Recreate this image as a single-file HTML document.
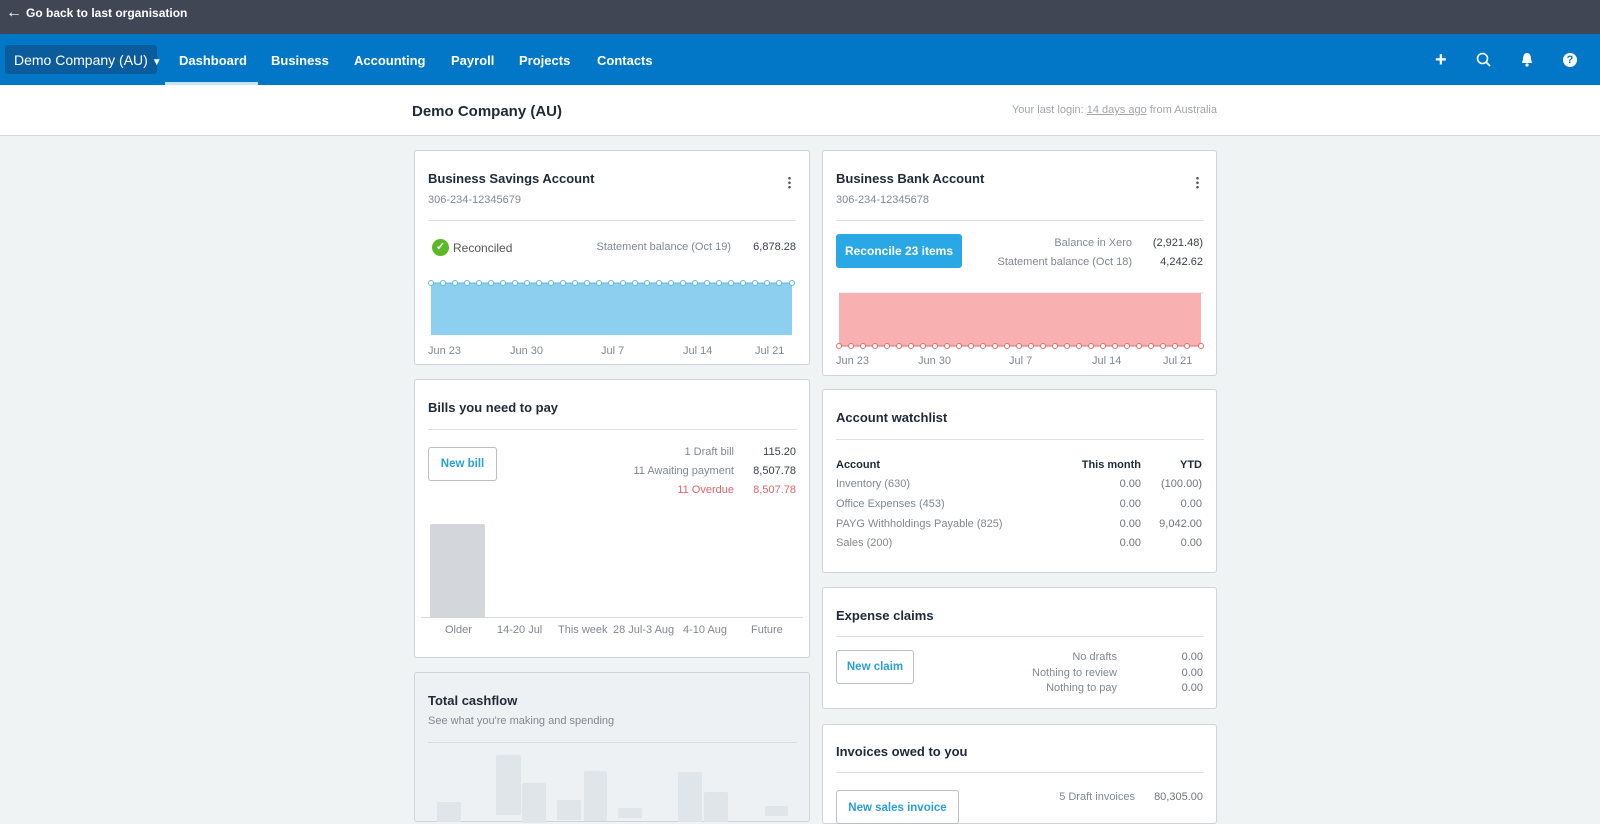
<!DOCTYPE html>
<html><head><meta charset="utf-8"><style>
*{margin:0;padding:0;box-sizing:border-box}
body{width:1600px;height:811px;overflow:hidden;background:#eff3f4;font-family:"Liberation Sans",Arial,sans-serif;position:relative}
.a{position:absolute;white-space:nowrap;line-height:1}
.card{position:absolute;background:#fff;border:1px solid #cfd4d8;border-radius:3px}
.t{font-weight:bold;font-size:13px;color:#1e2a38}
.g{font-size:11px;color:#808890}
.s{font-size:11px;color:#6e767d}
.v{font-size:11px;color:#3a4148}
.hr{position:absolute;height:1px;background:#dde1e4}
.nav{font-weight:bold;font-size:13px;color:#fff}
.btn{position:absolute;border:1px solid #b9c0c6;border-radius:3px;background:#fff;color:#2aa0d8;font-weight:bold;font-size:11.5px;display:flex;align-items:center;justify-content:center}
.bar{position:absolute;background:#e0e5e9;border-radius:2px 2px 0 0}
</style></head><body>
<div class="a" style="left:0;top:0;width:1600px;height:34px;background:#404654"></div>
<div class="a" style="left:6px;top:5px;font-size:16px;color:#fff;font-weight:bold">&#8592;</div>
<div class="a" style="left:26px;top:7px;font-size:12px;color:#fff;font-weight:bold">Go back to last organisation</div>
<div class="a" style="left:0;top:34px;width:1600px;height:51px;background:#0277c7"></div>
<div class="a" style="left:5px;top:45px;width:152px;height:29px;background:#0b5c9c;border-radius:3px"></div>
<div class="a" style="left:14px;top:53px;font-size:14px;color:#fff">Demo Company (AU) <span style="font-size:10px">&#9660;</span></div>
<div class="a nav" style="left:179px;top:54px">Dashboard</div>
<div class="a nav" style="left:271px;top:54px">Business</div>
<div class="a nav" style="left:354px;top:54px">Accounting</div>
<div class="a nav" style="left:451px;top:54px">Payroll</div>
<div class="a nav" style="left:519px;top:54px">Projects</div>
<div class="a nav" style="left:597px;top:54px">Contacts</div>
<div class="a" style="left:165px;top:82px;width:93px;height:3px;background:#c5e6f9"></div>
<div class="a" style="left:1435px;top:50px;font-size:20px;color:#fff;font-weight:bold">+</div>
<svg class="a" style="left:1476px;top:52px" width="16" height="16"><circle cx="6.5" cy="6.5" r="5" fill="none" stroke="#fff" stroke-width="1.6"/><line x1="10" y1="10" x2="14" y2="14" stroke="#fff" stroke-width="1.8"/></svg>
<svg class="a" style="left:1520px;top:52px" width="14" height="15"><path d="M7 1C4 1 3 4 3 7L2 11H12L11 7C11 4 10 1 7 1Z" fill="#fff"/><circle cx="7" cy="13" r="1.6" fill="#fff"/></svg>
<div class="a" style="left:1563px;top:53px;width:14px;height:14px;border-radius:50%;background:#fff;color:#0277c7;font-size:11px;font-weight:bold;text-align:center;line-height:14px">?</div>
<div class="a" style="left:0;top:85px;width:1600px;height:51px;background:#fff;border-bottom:1px solid #d3d7da"></div>
<div class="a" style="left:412px;top:104px;font-size:15px;color:#1e2a38;font-weight:bold">Demo Company (AU)</div>
<div class="a" style="right:383px;top:105px;font-size:11px;color:#a0a6ab">Your last login: <u>14 days ago</u> from Australia</div>

<!-- Savings -->
<div class="card" style="left:414px;top:150px;width:396px;height:215px"></div>
<div class="a t" style="left:428px;top:172px">Business Savings Account</div>
<div class="a g" style="left:428px;top:195px">306-234-12345679</div>
<div class="a" style="left:788px;top:176px;width:3px;height:13px;background:radial-gradient(circle,#555 1.2px,transparent 1.4px) 0 0/3px 4.5px"></div>
<div class="hr" style="left:428px;top:220px;width:368px"></div>
<div class="a" style="left:432px;top:239px;width:17px;height:17px;border-radius:50%;background:#5cb824;color:#fff;font-size:11px;text-align:center;line-height:17px;font-weight:bold">&#10003;</div>
<div class="a s" style="left:453px;top:242px;font-size:12px;color:#555">Reconciled</div>
<div class="a g" style="right:869px;top:242px">Statement balance (Oct 19)</div>
<div class="a v" style="right:804px;top:242px">6,878.28</div>
<svg class="a" style="left:428px;top:278px" width="368" height="62">
<rect x="3" y="5" width="361" height="52" fill="#8ccfef"/>
<line x1="3" y1="5" x2="364" y2="5" stroke="#5fb8e6" stroke-width="1"/>
<g fill="#fff" stroke="#5fb8e6" stroke-width="1">
<circle cx="3" cy="5" r="2.5"/><circle cx="15" cy="5" r="2.5"/><circle cx="27" cy="5" r="2.5"/><circle cx="39" cy="5" r="2.5"/><circle cx="51" cy="5" r="2.5"/><circle cx="63" cy="5" r="2.5"/><circle cx="75" cy="5" r="2.5"/><circle cx="87" cy="5" r="2.5"/><circle cx="99" cy="5" r="2.5"/><circle cx="111" cy="5" r="2.5"/><circle cx="123" cy="5" r="2.5"/><circle cx="135" cy="5" r="2.5"/><circle cx="147" cy="5" r="2.5"/><circle cx="159" cy="5" r="2.5"/><circle cx="171" cy="5" r="2.5"/><circle cx="183" cy="5" r="2.5"/><circle cx="195" cy="5" r="2.5"/><circle cx="207" cy="5" r="2.5"/><circle cx="219" cy="5" r="2.5"/><circle cx="231" cy="5" r="2.5"/><circle cx="243" cy="5" r="2.5"/><circle cx="255" cy="5" r="2.5"/><circle cx="267" cy="5" r="2.5"/><circle cx="279" cy="5" r="2.5"/><circle cx="291" cy="5" r="2.5"/><circle cx="303" cy="5" r="2.5"/><circle cx="315" cy="5" r="2.5"/><circle cx="327" cy="5" r="2.5"/><circle cx="339" cy="5" r="2.5"/><circle cx="351" cy="5" r="2.5"/><circle cx="364" cy="5" r="2.5"/></g></svg>
<div class="a g" style="left:428px;top:346px">Jun 23</div>
<div class="a g" style="left:510px;top:346px">Jun 30</div>
<div class="a g" style="left:601px;top:346px">Jul 7</div>
<div class="a g" style="left:683px;top:346px">Jul 14</div>
<div class="a g" style="left:755px;top:346px">Jul 21</div>

<!-- Bank -->
<div class="card" style="left:822px;top:150px;width:395px;height:226px"></div>
<div class="a t" style="left:836px;top:172px">Business Bank Account</div>
<div class="a g" style="left:836px;top:195px">306-234-12345678</div>
<div class="a" style="left:1196px;top:176px;width:3px;height:13px;background:radial-gradient(circle,#555 1.2px,transparent 1.4px) 0 0/3px 4.5px"></div>
<div class="hr" style="left:836px;top:220px;width:368px"></div>
<div class="a" style="left:836px;top:234px;width:126px;height:34px;background:#2aa8e5;border-radius:3px;color:#fff;font-weight:bold;font-size:12px;text-align:center;line-height:34px">Reconcile 23 items</div>
<div class="a g" style="right:468px;top:238px">Balance in Xero</div>
<div class="a v" style="right:397px;top:238px">(2,921.48)</div>
<div class="a g" style="right:468px;top:257px">Statement balance (Oct 18)</div>
<div class="a v" style="right:397px;top:257px">4,242.62</div>
<svg class="a" style="left:836px;top:290px" width="370" height="60">
<line x1="3" y1="3" x2="368" y2="3" stroke="#dcdfe2"/>
<rect x="3" y="3" width="362" height="53" fill="#f8b0b0"/>
<line x1="3" y1="56" x2="365" y2="56" stroke="#e46b6b"/>
<g fill="#fff" stroke="#e46b6b" stroke-width="1">
<circle cx="3" cy="56" r="2.5"/><circle cx="15" cy="56" r="2.5"/><circle cx="27" cy="56" r="2.5"/><circle cx="39" cy="56" r="2.5"/><circle cx="51" cy="56" r="2.5"/><circle cx="63" cy="56" r="2.5"/><circle cx="75" cy="56" r="2.5"/><circle cx="87" cy="56" r="2.5"/><circle cx="99" cy="56" r="2.5"/><circle cx="111" cy="56" r="2.5"/><circle cx="123" cy="56" r="2.5"/><circle cx="135" cy="56" r="2.5"/><circle cx="147" cy="56" r="2.5"/><circle cx="159" cy="56" r="2.5"/><circle cx="171" cy="56" r="2.5"/><circle cx="183" cy="56" r="2.5"/><circle cx="195" cy="56" r="2.5"/><circle cx="207" cy="56" r="2.5"/><circle cx="219" cy="56" r="2.5"/><circle cx="231" cy="56" r="2.5"/><circle cx="243" cy="56" r="2.5"/><circle cx="255" cy="56" r="2.5"/><circle cx="267" cy="56" r="2.5"/><circle cx="279" cy="56" r="2.5"/><circle cx="291" cy="56" r="2.5"/><circle cx="303" cy="56" r="2.5"/><circle cx="315" cy="56" r="2.5"/><circle cx="327" cy="56" r="2.5"/><circle cx="339" cy="56" r="2.5"/><circle cx="351" cy="56" r="2.5"/><circle cx="365" cy="56" r="2.5"/></g></svg>
<div class="a g" style="left:836px;top:356px">Jun 23</div>
<div class="a g" style="left:918px;top:356px">Jun 30</div>
<div class="a g" style="left:1009px;top:356px">Jul 7</div>
<div class="a g" style="left:1092px;top:356px">Jul 14</div>
<div class="a g" style="left:1163px;top:356px">Jul 21</div>

<!-- Bills -->
<div class="card" style="left:414px;top:379px;width:396px;height:279px"></div>
<div class="a t" style="left:428px;top:401px">Bills you need to pay</div>
<div class="hr" style="left:428px;top:429px;width:369px"></div>
<div class="btn" style="left:428px;top:447px;width:69px;height:34px">New bill</div>
<div class="a g" style="right:866px;top:447px">1 Draft bill</div>
<div class="a v" style="right:804px;top:447px">115.20</div>
<div class="a g" style="right:866px;top:466px">11 Awaiting payment</div>
<div class="a v" style="right:804px;top:466px">8,507.78</div>
<div class="a g" style="right:866px;top:485px;color:#e2646a">11 Overdue</div>
<div class="a v" style="right:804px;top:485px;color:#e2646a">8,507.78</div>
<div class="a" style="left:430px;top:524px;width:55px;height:93px;background:#d3d6da;border-radius:2px 2px 0 0"></div>
<div class="hr" style="left:421px;top:617px;width:382px;background:#d6dadd"></div>
<div class="a g" style="left:445px;top:625px">Older</div>
<div class="a g" style="left:497px;top:625px">14-20 Jul</div>
<div class="a g" style="left:558px;top:625px">This week</div>
<div class="a g" style="left:613px;top:625px">28 Jul-3 Aug</div>
<div class="a g" style="left:683px;top:625px">4-10 Aug</div>
<div class="a g" style="left:751px;top:625px">Future</div>

<!-- Cashflow -->
<div class="card" style="left:414px;top:672px;width:396px;height:150px;background:#eef1f4"></div>
<div class="a t" style="left:428px;top:694px">Total cashflow</div>
<div class="a g" style="left:428px;top:716px">See what you're making and spending</div>
<div class="hr" style="left:428px;top:742px;width:369px;background:#d8dde1"></div>
<div class="bar" style="left:437px;top:802px;width:24px;height:20px"></div>
<div class="bar" style="left:496px;top:755px;width:25px;height:60px"></div>
<div class="bar" style="left:522px;top:783px;width:24px;height:40px"></div>
<div class="bar" style="left:557px;top:800px;width:24px;height:20px"></div>
<div class="bar" style="left:584px;top:771px;width:23px;height:50px"></div>
<div class="bar" style="left:618px;top:808px;width:24px;height:10px"></div>
<div class="bar" style="left:678px;top:772px;width:24px;height:50px"></div>
<div class="bar" style="left:704px;top:792px;width:24px;height:30px"></div>
<div class="bar" style="left:765px;top:806px;width:23px;height:10px"></div>

<!-- Watchlist -->
<div class="card" style="left:822px;top:389px;width:395px;height:184px"></div>
<div class="a t" style="left:836px;top:411px">Account watchlist</div>
<div class="hr" style="left:836px;top:439px;width:368px"></div>
<div class="a" style="left:836px;top:460px;font-size:11px;font-weight:bold;color:#1e2a38">Account</div>
<div class="a" style="right:459px;top:460px;font-size:11px;font-weight:bold;color:#1e2a38">This month</div>
<div class="a" style="right:398px;top:460px;font-size:11px;font-weight:bold;color:#1e2a38">YTD</div>
<div class="a g" style="left:836px;top:479px">Inventory (630)</div>
<div class="a g" style="left:836px;top:499px">Office Expenses (453)</div>
<div class="a g" style="left:836px;top:519px">PAYG Withholdings Payable (825)</div>
<div class="a g" style="left:836px;top:538px">Sales (200)</div>
<div class="a s" style="right:459px;top:479px">0.00</div><div class="a s" style="right:398px;top:479px">(100.00)</div>
<div class="a s" style="right:459px;top:499px">0.00</div><div class="a s" style="right:398px;top:499px">0.00</div>
<div class="a s" style="right:459px;top:519px">0.00</div><div class="a s" style="right:398px;top:519px">9,042.00</div>
<div class="a s" style="right:459px;top:538px">0.00</div><div class="a s" style="right:398px;top:538px">0.00</div>

<!-- Expense -->
<div class="card" style="left:822px;top:587px;width:395px;height:122px"></div>
<div class="a t" style="left:836px;top:609px">Expense claims</div>
<div class="hr" style="left:836px;top:636px;width:368px"></div>
<div class="btn" style="left:836px;top:650px;width:78px;height:34px">New claim</div>
<div class="a g" style="right:483px;top:652px">No drafts</div>
<div class="a g" style="right:483px;top:668px">Nothing to review</div>
<div class="a g" style="right:483px;top:683px">Nothing to pay</div>
<div class="a s" style="right:397px;top:652px">0.00</div>
<div class="a s" style="right:397px;top:668px">0.00</div>
<div class="a s" style="right:397px;top:683px">0.00</div>

<!-- Invoices -->
<div class="card" style="left:822px;top:724px;width:395px;height:100px"></div>
<div class="a t" style="left:836px;top:745px">Invoices owed to you</div>
<div class="hr" style="left:836px;top:772px;width:368px"></div>
<div class="btn" style="left:836px;top:790px;width:123px;height:34px;align-items:flex-start;padding-top:11px">New sales invoice</div>
<div class="a g" style="right:465px;top:792px">5 Draft invoices</div>
<div class="a s" style="right:397px;top:792px">80,305.00</div>
</body></html>
